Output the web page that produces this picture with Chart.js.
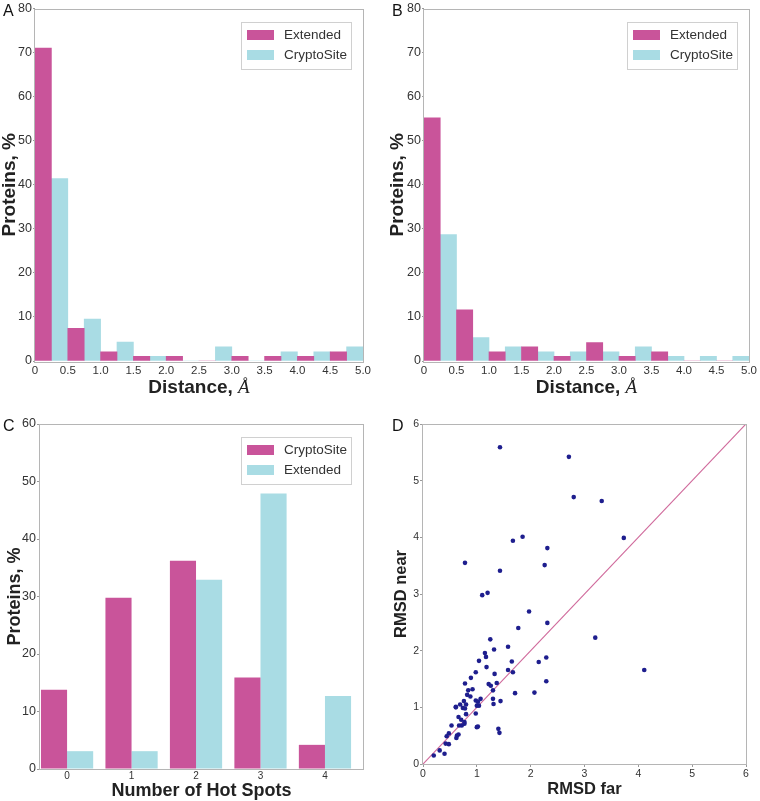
<!DOCTYPE html>
<html>
<head>
<meta charset="utf-8">
<script src="https://cdn.jsdelivr.net/npm/chart.js@4.4.1/dist/chart.umd.min.js"></script>
<style>
  body { margin: 0; background: #fff; }
  #wrap { position: relative; width: 760px; height: 801px; }
  canvas { position: absolute; }
  .tag { position: absolute; font: 16px "Liberation Sans", Arial, sans-serif; line-height: 16px; color: #111; }
</style>
</head>
<body>
<div id="wrap">
  <canvas id="chartA" width="380" height="400" style="left:0;top:0"></canvas>
  <canvas id="chartB" width="380" height="400" style="left:380px;top:0"></canvas>
  <canvas id="chartC" width="380" height="401" style="left:0;top:400px"></canvas>
  <canvas id="chartD" width="380" height="401" style="left:380px;top:400px"></canvas>
  <div class="tag" style="left:3px;top:3px">A</div>
  <div class="tag" style="left:392px;top:3px">B</div>
  <div class="tag" style="left:3px;top:418px">C</div>
  <div class="tag" style="left:392px;top:418px">D</div>
</div>
<script>
// histogram bins (centres, Å) and x tick labels for A and B
const distBins = [0.25, 0.75, 1.25, 1.75, 2.25, 2.75, 3.25, 3.75, 4.25, 4.75];
const distTicks = ['0', '0.5', '1.0', '1.5', '2.0', '2.5', '3.0', '3.5', '4.0', '4.5', '5.0'];

// A
const extendedA = [71.0, 7.4, 2.1, 1.05, 1.05, 0, 1.05, 1.05, 1.05, 2.1];
const cryptoA   = [41.4, 9.5, 4.3, 1.05, 0, 3.2, 0, 2.1, 2.1, 3.2];
// B
const extendedB = [55.2, 11.6, 2.1, 3.2, 1.05, 4.2, 1.05, 2.1, 0, 0];
const cryptoB   = [28.7, 5.3, 3.2, 2.1, 2.1, 2.1, 3.2, 1.05, 1.05, 1.05];

// C
const hotSpots = [0, 1, 2, 3, 4];
const cryptoC   = [13.8, 29.8, 36.2, 15.9, 4.2];
const extendedC = [3.1, 3.1, 32.9, 47.9, 12.7];

// D
const rmsdFar = [1.43, 2.71, 2.80, 3.32, 3.73, 1.67, 1.85, 2.31, 0.78, 2.26, 1.43, 1.10, 1.20, 1.97, 2.31,
  1.77, 3.20, 1.25, 1.58, 1.32, 1.15, 1.17, 2.29, 1.04, 1.65, 2.15, 1.18, 4.11, 1.58, 0.98, 1.33, 1.67,
  0.89, 0.78, 1.37, 1.22, 1.26, 2.29, 0.92, 0.84, 1.30, 1.71, 2.07, 0.82, 0.88, 1.07, 1.30, 0.98, 0.76,
  1.02, 1.44, 1.31, 0.80, 0.69, 0.61, 0.61, 1.00, 1.04, 0.74, 0.78, 0.98, 0.80, 0.66, 0.71, 0.77, 0.77,
  0.72, 0.67, 0.53, 1.00, 1.02, 1.40, 1.42, 0.66, 0.63, 0.48, 0.44, 0.62, 0.42, 0.48, 0.31, 0.40, 0.20];
const rmsdNear = [5.59, 5.42, 4.71, 4.64, 3.99, 3.94, 4.01, 3.81, 3.55, 3.51, 3.41, 2.98, 3.02, 2.69, 2.49,
  2.40, 2.23, 2.20, 2.07, 2.02, 1.96, 1.89, 1.88, 1.82, 1.81, 1.80, 1.71, 1.66, 1.66, 1.62, 1.59, 1.62,
  1.52, 1.42, 1.43, 1.41, 1.38, 1.46, 1.32, 1.30, 1.30, 1.25, 1.26, 1.22, 1.19, 1.15, 1.15, 1.12, 1.11,
  1.10, 1.11, 1.06, 1.05, 1.05, 1.01, 1.00, 1.03, 1.03, 0.99, 0.98, 0.89, 0.88, 0.83, 0.78, 0.74, 0.71,
  0.68, 0.68, 0.68, 0.65, 0.66, 0.62, 0.55, 0.52, 0.50, 0.54, 0.49, 0.46, 0.36, 0.35, 0.24, 0.18, 0.15];
const diagLine = [0, 6];

const MAGENTA = '#c9549a';
const CYAN = '#a9dce4';
const SANS = '"Liberation Sans", Arial, sans-serif';

Chart.defaults.font.family = SANS;
Chart.defaults.color = '#333';

// grey box round the plot area
const frame = {
  id: 'frame',
  afterDraw(chart) {
    const {ctx, chartArea: a} = chart;
    ctx.save();
    ctx.strokeStyle = '#b5b5b5';
    ctx.lineWidth = 1;
    ctx.strokeRect(Math.round(a.left) - 0.5, Math.round(a.top) + 0.5,
      Math.round(a.right - a.left) + 1, Math.round(a.bottom - a.top));
    ctx.restore();
  }
};

// framed legend in the top right corner
const boxLegend = {
  id: 'boxLegend',
  afterDraw(chart) {
    const {ctx, chartArea} = chart;
    const w = 110, h = 47;
    const x0 = Math.round(chartArea.right - 12 - w), y0 = Math.round(chartArea.top + 13);
    ctx.save();
    ctx.fillStyle = '#fff';
    ctx.fillRect(x0, y0, w, h);
    ctx.strokeStyle = '#d0d0d0';
    ctx.strokeRect(x0 + 0.5, y0 + 0.5, w, h);
    ctx.font = '13.5px ' + SANS;
    ctx.textBaseline = 'middle';
    chart.data.datasets.forEach((ds, i) => {
      const cy = y0 + 13 + i * 20;
      ctx.fillStyle = ds.backgroundColor;
      ctx.fillRect(x0 + 6, cy - 5, 27, 10);
      ctx.fillStyle = '#333';
      ctx.fillText(ds.label, x0 + 43, cy);
    });
    ctx.restore();
  }
};

// "Distance, Å" with an italic serif angstrom
const distTitle = {
  id: 'distTitle',
  afterDraw(chart) {
    const {ctx, chartArea} = chart;
    const a = 'Distance, ', b = 'Å';
    ctx.save();
    ctx.fillStyle = '#222';
    ctx.textBaseline = 'alphabetic';
    ctx.font = 'bold 19px ' + SANS;
    const wa = ctx.measureText(a).width;
    ctx.font = 'italic 19px "Liberation Serif", "DejaVu Serif", serif';
    const wb = ctx.measureText(b).width;
    const x = (chartArea.left + chartArea.right) / 2 - (wa + wb) / 2;
    ctx.font = 'bold 19px ' + SANS;
    ctx.fillText(a, x, 393);
    ctx.font = 'italic 19px "Liberation Serif", "DejaVu Serif", serif';
    ctx.fillText(b, x + wa, 393);
    ctx.restore();
  }
};

function histogram(id, ext, cry, yAxisWidth, rightPad, titlePad) {
  return new Chart(document.getElementById(id), {
    type: 'bar',
    data: {
      datasets: [
        { label: 'Extended', data: distBins.map((x, i) => ({x, y: ext[i]})), backgroundColor: MAGENTA },
        { label: 'CryptoSite', data: distBins.map((x, i) => ({x, y: cry[i]})), backgroundColor: CYAN }
      ]
    },
    options: {
      responsive: false,
      animation: false,
      layout: { padding: { top: 7, right: rightPad, left: 0, bottom: 0 } },
      datasets: { bar: { categoryPercentage: 1, barPercentage: 1 } },
      plugins: { legend: { display: false }, tooltip: { enabled: false } },
      scales: {
        x: {
          type: 'linear', min: 0, max: 5, offset: false,
          border: { display: false },
          grid: { display: false, drawTicks: false },
          ticks: { stepSize: 0.5, padding: 3, maxRotation: 0, font: { size: 11.5 },
                   callback: (v, i) => distTicks[i] },
          afterFit: (s) => { s.height = 39; }
        },
        y: {
          min: 0, max: 80,
          border: { display: false },
          grid: { drawOnChartArea: false, tickLength: 2, color: '#999' },
          ticks: { stepSize: 10, padding: 1, font: { size: 12.5 } },
          title: { display: true, text: 'Proteins, %', color: '#222',
                   font: { size: 19, weight: 'bold', lineHeight: 1 }, padding: { top: titlePad, bottom: 0 } },
          afterFit: (s) => { s.width = yAxisWidth; }
        }
      }
    },
    plugins: [frame, boxLegend, distTitle]
  });
}

histogram('chartA', extendedA, cryptoA, 35, 17, 0);
histogram('chartB', extendedB, cryptoB, 44, 8, 8);

new Chart(document.getElementById('chartC'), {
  type: 'bar',
  data: {
    datasets: [
      { label: 'CryptoSite', data: hotSpots.map((x, i) => ({x, y: cryptoC[i]})), backgroundColor: MAGENTA },
      { label: 'Extended', data: hotSpots.map((x, i) => ({x, y: extendedC[i]})), backgroundColor: CYAN }
    ]
  },
  options: {
    responsive: false,
    animation: false,
    layout: { padding: { top: 24, right: 17, left: 0, bottom: 0 } },
    datasets: { bar: { categoryPercentage: 0.81, barPercentage: 1 } },
    plugins: { legend: { display: false }, tooltip: { enabled: false } },
    scales: {
      x: {
        type: 'linear', min: -0.42, max: 4.59, offset: false,
        border: { display: false },
        grid: { display: false, drawTicks: false },
        ticks: { stepSize: 1, includeBounds: false, padding: 1, font: { size: 10 } },
        title: { display: true, text: 'Number of Hot Spots', color: '#222',
                 font: { size: 18, weight: 'bold', lineHeight: 1 }, padding: { top: 0, bottom: 1 } },
        afterFit: (s) => { s.height = 32; }
      },
      y: {
        min: 0, max: 60,
        border: { display: false },
        grid: { drawOnChartArea: false, tickLength: 3, color: '#999' },
        ticks: { stepSize: 10, padding: 1, font: { size: 12.5 } },
        title: { display: true, text: 'Proteins, %', color: '#222',
                 font: { size: 18, weight: 'bold', lineHeight: 1 }, padding: { top: 6, bottom: 0 } },
        afterFit: (s) => { s.width = 40; }
      }
    }
  },
  plugins: [frame, boxLegend]
});

new Chart(document.getElementById('chartD'), {
  type: 'scatter',
  data: {
    datasets: [
      { data: rmsdFar.map((x, i) => ({x, y: rmsdNear[i]})), backgroundColor: '#1e1e8e',
        borderColor: '#1e1e8e', pointRadius: 2.3, borderWidth: 0 },
      { type: 'line', data: diagLine.map(v => ({x: v, y: v})), borderColor: '#d06a9c',
        borderWidth: 1.2, pointRadius: 0, fill: false }
    ]
  },
  options: {
    responsive: false,
    animation: false,
    layout: { padding: { top: 24, right: 14, left: 0, bottom: 0 } },
    plugins: { legend: { display: false }, tooltip: { enabled: false } },
    scales: {
      x: {
        type: 'linear', min: 0, max: 6,
        border: { display: false },
        grid: { drawOnChartArea: false, tickLength: 3, color: '#999' },
        ticks: { stepSize: 1, padding: 1, maxRotation: 0, font: { size: 10.5 } },
        title: { display: true, text: 'RMSD far', color: '#222',
                 font: { size: 16.5, weight: 'bold', lineHeight: 1 }, padding: { top: 0, bottom: 3 } },
        afterFit: (s) => { s.height = 37; }
      },
      y: {
        min: 0, max: 6,
        border: { display: false },
        grid: { drawOnChartArea: false, tickLength: 3, color: '#999' },
        ticks: { stepSize: 1, padding: 1, font: { size: 10.5 } },
        title: { display: true, text: 'RMSD near', color: '#222',
                 font: { size: 16.5, weight: 'bold', lineHeight: 1 }, padding: { top: 13, bottom: 0 } },
        afterFit: (s) => { s.width = 43; }
      }
    }
  },
  plugins: [frame]
});
</script>
</body>
</html>
